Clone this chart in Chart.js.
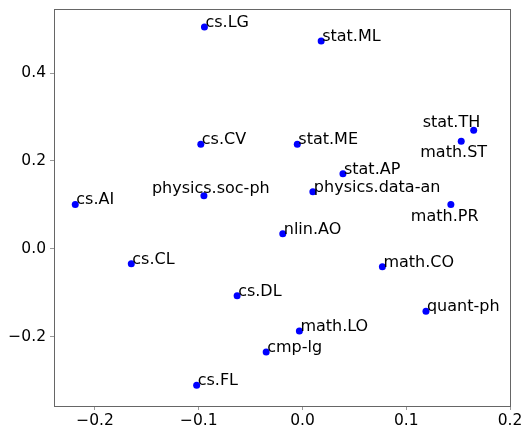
<!DOCTYPE html>
<html>
<head>
<meta charset="utf-8">
<script src="https://cdn.jsdelivr.net/npm/chart.js@4/dist/chart.umd.min.js"></script>
<style>
  body { margin: 0; background: #fff; }
  #wrap { width: 524px; height: 425px; }
</style>
</head>
<body>
<div id="wrap"><canvas id="embedChart" width="524" height="425"></canvas></div>
<script>
const categories = ['cs.LG', 'stat.ML', 'stat.TH', 'math.ST', 'stat.ME', 'cs.CV', 'stat.AP',
  'physics.data-an', 'physics.soc-ph', 'cs.AI', 'math.PR', 'nlin.AO', 'cs.CL', 'math.CO',
  'cs.DL', 'quant-ph', 'math.LO', 'cmp-lg', 'cs.FL']
const xValues = [-0.0945, 0.018, 0.165, 0.153, -0.005, -0.098, 0.039,
  0.010, -0.095, -0.219, 0.143, -0.019, -0.165, 0.077,
  -0.063, 0.119, -0.003, -0.035, -0.102]
const yValues = [0.505, 0.473, 0.270, 0.245, 0.238, 0.238, 0.171,
  0.130, 0.121, 0.101, 0.101, 0.034, -0.034, -0.041,
  -0.107, -0.142, -0.187, -0.235, -0.311]
const xTicks = [-0.2, -0.1, 0.0, 0.1, 0.2]
const yTicks = [-0.2, 0.0, 0.2, 0.4]

const FONT = 'DejaVu Sans'

// labels that were nudged away from their point in the original
const labelShift = {
  'physics.soc-ph': [-52, -3],
  'stat.TH': [-51, -3],
  'math.ST': [-41, 16],
  'math.PR': [-40, 17]
}

const fmt = v => (v < 0 ? '\u2212' : '') + Math.abs(v).toFixed(1)

const pointLabels = {
  id: 'pointLabels',
  afterDatasetsDraw(chart) {
    const { ctx, scales } = chart
    ctx.save()
    ctx.font = '16px "' + FONT + '"'
    ctx.fillStyle = '#000'
    ctx.textAlign = 'left'
    ctx.textBaseline = 'alphabetic'
    categories.forEach((name, i) => {
      const px = scales.x.getPixelForValue(xValues[i])
      const py = scales.y.getPixelForValue(yValues[i])
      const [dx, dy] = labelShift[name] || [1, 0]
      ctx.fillText(name, px + dx, py + dy)
    })
    ctx.restore()
  }
}

const frame = {
  id: 'frame',
  afterDraw(chart) {
    const { ctx, chartArea: a } = chart
    ctx.save()
    ctx.strokeStyle = '#666'
    ctx.lineWidth = 1
    ctx.strokeRect(a.left + 0.5, a.top + 0.5, a.right - a.left, a.bottom - a.top)
    ctx.restore()
  }
}

const ctx = document.getElementById('embedChart').getContext('2d')
new Chart(ctx, {
  type: 'scatter',
  data: {
    datasets: [{
      data: categories.map((c, i) => ({ x: xValues[i], y: yValues[i] })),
      backgroundColor: '#0000ff',
      borderColor: '#0000ff',
      borderWidth: 0,
      pointRadius: 3.5
    }]
  },
  options: {
    responsive: false,
    animation: false,
    layout: { padding: { top: 9, right: 14, left: 0, bottom: 0 } },
    plugins: { legend: { display: false }, tooltip: { enabled: false } },
    scales: {
      x: {
        type: 'linear',
        min: -0.2395,
        max: 0.2,
        afterBuildTicks: s => { s.ticks = xTicks.map(v => ({ value: v })) },
        afterFit: s => { s.height = 19; s.paddingLeft = 0; s.paddingRight = 0 },
        grid: { drawOnChartArea: false, drawTicks: true, tickLength: 4, color: '#999' },
        border: { display: true, color: '#666' },
        ticks: {
          callback: v => fmt(v),
          color: '#000',
          padding: 2,
          maxRotation: 0,
          font: { family: FONT, size: 15.5 }
        }
      },
      y: {
        type: 'linear',
        min: -0.358,
        max: 0.546,
        afterBuildTicks: s => { s.ticks = yTicks.map(v => ({ value: v })) },
        afterFit: s => { s.width = 54; s.paddingTop = 0; s.paddingBottom = 0 },
        grid: { drawOnChartArea: false, drawTicks: true, tickLength: 4, color: '#999' },
        border: { display: true, color: '#666' },
        ticks: {
          callback: v => fmt(v),
          color: '#000',
          padding: 4,
          font: { family: FONT, size: 15.5 }
        }
      }
    }
  },
  plugins: [pointLabels, frame]
})
</script>
</body>
</html>
